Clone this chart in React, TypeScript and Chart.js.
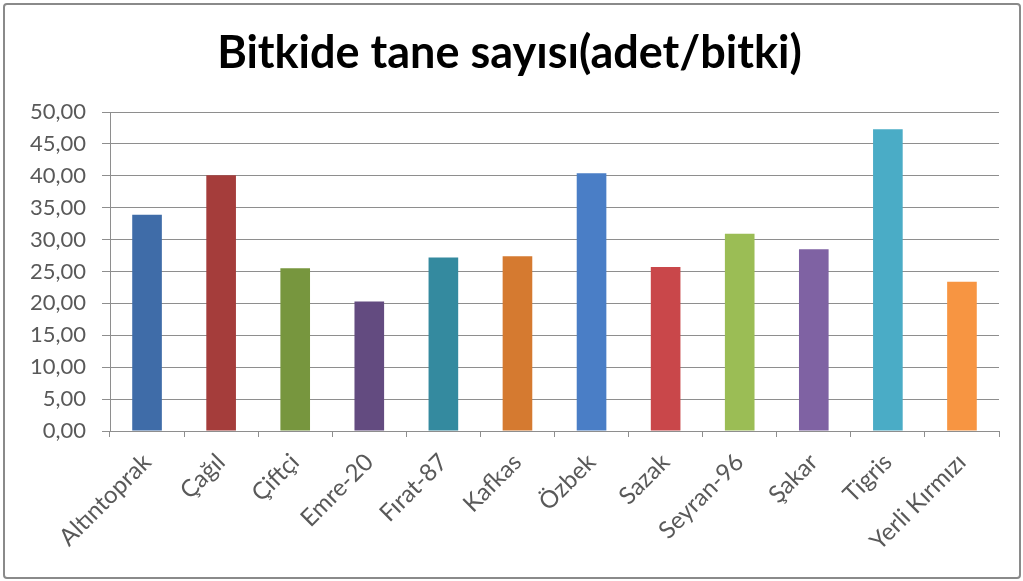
import React, { useEffect, useRef } from "react";
import { Chart, registerables } from "chart.js";

Chart.register(...registerables);

const titleText = "Bitkide tane sayısı(adet/bitki)";
const categories = [
  "Altıntoprak",
  "Çağıl",
  "Çiftçi",
  "Emre-20",
  "Fırat-87",
  "Kafkas",
  "Özbek",
  "Sazak",
  "Seyran-96",
  "Şakar",
  "Tigris",
  "Yerli Kırmızı",
];
const values = [33.9, 40.1, 25.5, 20.3, 27.2, 27.4, 40.4, 25.7, 30.9, 28.5, 47.3, 23.4];
const barColors = [
  "#3f6ca8",
  "#a53d3b",
  "#77963e",
  "#634b80",
  "#348a9f",
  "#d57a30",
  "#4a7ec6",
  "#c9474a",
  "#9bbd55",
  "#7f62a3",
  "#4aacc6",
  "#f79542",
];
const yMin = 0;
const yMax = 50;
const yStep = 5;

const FONT = "Lato, 'Open Sans', sans-serif";

export default function App() {
  const canvasRef = useRef<HTMLCanvasElement | null>(null);

  useEffect(() => {
    if (!canvasRef.current) return;
    const chart = new Chart(canvasRef.current, {
      type: "bar",
      data: {
        labels: categories,
        datasets: [
          {
            data: values,
            backgroundColor: barColors,
            borderWidth: 0,
            categoryPercentage: 1,
            barPercentage: 0.4,
          },
        ],
      },
      options: {
        responsive: false,
        animation: false,
        devicePixelRatio: 1,
        layout: { padding: { left: 20, right: 24, top: 0, bottom: 0 } },
        plugins: {
          legend: { display: false },
          tooltip: { enabled: false },
          title: {
            display: true,
            text: titleText,
            color: "#000000",
            font: { family: FONT, size: 45, weight: "bold", lineHeight: 1.2 },
            padding: { top: 26, bottom: 32 },
          },
        },
        scales: {
          x: {
            offset: true,
            grid: {
              display: true,
              drawOnChartArea: false,
              drawTicks: true,
              tickLength: 6,
              color: "#8e8e8e",
              offset: true,
            },
            border: { display: true, color: "#8e8e8e" },
            ticks: {
              color: "#595959",
              font: { family: FONT, size: 24 },
              minRotation: 45,
              maxRotation: 45,
              autoSkip: false,
              padding: 11,
            },
            afterFit: (scale: any) => {
              scale.height = 150;
            },
          },
          y: {
            min: yMin,
            max: yMax,
            grid: { color: "#8e8e8e", tickLength: 8, drawTicks: true },
            border: { display: true, color: "#8e8e8e" },
            ticks: {
              stepSize: yStep,
              color: "#595959",
              font: { family: FONT, size: 22 },
              padding: 16,
              callback: (v: any) => Number(v).toFixed(2).replace(".", ","),
            },
            afterFit: (scale: any) => {
              scale.width = 90;
            },
          },
        },
      },
    });
    return () => chart.destroy();
  }, []);

  return (
    <div style={{ position: "absolute", left: 0, top: 0, width: 1023, height: 581, background: "#ffffff" }}>
      <canvas ref={canvasRef} width={1023} height={581} style={{ position: "absolute", left: 0, top: 0 }} />
      <div
        style={{
          position: "absolute",
          left: 3,
          top: 3,
          width: 1014,
          height: 572,
          border: "2px solid #8a8a8a",
          borderRadius: 4,
          pointerEvents: "none",
        }}
      />
    </div>
  );
}
